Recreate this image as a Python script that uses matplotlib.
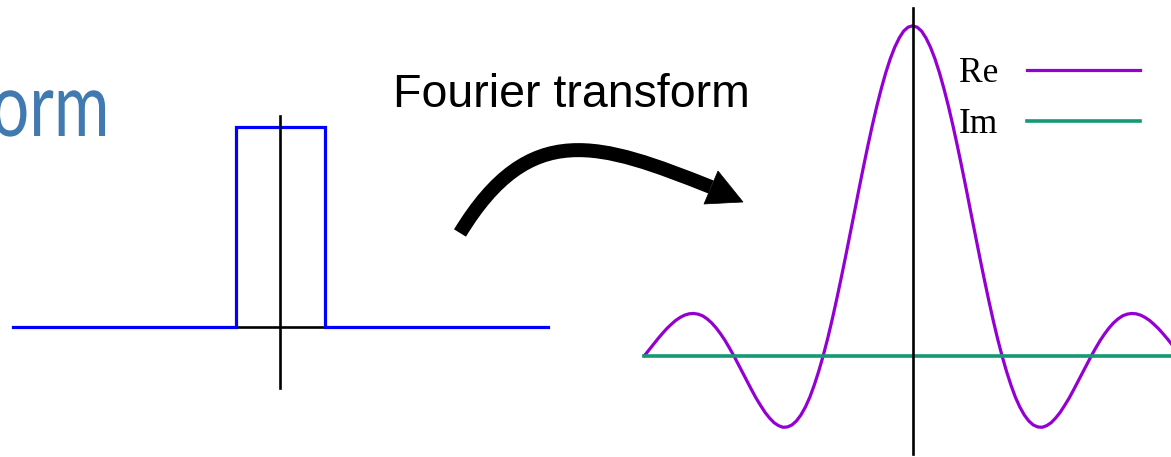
import numpy as np
import matplotlib
matplotlib.use("Agg")
import matplotlib.pyplot as plt
from matplotlib.path import Path
from matplotlib.patches import PathPatch, Polygon
from matplotlib.font_manager import FontProperties
from matplotlib.patheffects import AbstractPathEffect
from matplotlib.transforms import Affine2D

# ---------------- data ----------------
# left panel: rectangular pulse
time_x = [-3.0, -0.5, -0.5, 0.5, 0.5, 3.0]
rect_y = [0.0, 0.0, 1.0, 1.0, 0.0, 0.0]

# right panel: Fourier transform (sampled every 0.05 from -3 to 3)
freq = np.linspace(-3.0, 3.0, 121)
re_vals = [
    0.000, 0.017, 0.034, 0.051, 0.067, 0.082, 0.095, 0.107, 0.116, 0.123,
    0.127, 0.128, 0.126, 0.121, 0.112, 0.100, 0.085, 0.067, 0.047, 0.024,
    0.000, -0.026, -0.052, -0.078, -0.104, -0.129, -0.151, -0.172, -0.189, -0.203,
    -0.212, -0.217, -0.216, -0.210, -0.198, -0.180, -0.156, -0.126, -0.089, -0.047,
    0.000, 0.052, 0.109, 0.170, 0.234, 0.300, 0.368, 0.436, 0.505, 0.572,
    0.637, 0.699, 0.757, 0.810, 0.858, 0.900, 0.935, 0.963, 0.984, 0.996,
    1.000,
    0.996, 0.984, 0.963, 0.935, 0.900, 0.858, 0.810, 0.757, 0.699, 0.637,
    0.572, 0.505, 0.436, 0.368, 0.300, 0.234, 0.170, 0.109, 0.052, 0.000,
    -0.047, -0.089, -0.126, -0.156, -0.180, -0.198, -0.210, -0.216, -0.217, -0.212,
    -0.203, -0.189, -0.172, -0.151, -0.129, -0.104, -0.078, -0.052, -0.026, 0.000,
    0.024, 0.047, 0.067, 0.085, 0.100, 0.112, 0.121, 0.126, 0.128, 0.127,
    0.123, 0.116, 0.107, 0.095, 0.082, 0.067, 0.051, 0.034, 0.017, 0.000,
]
im_vals = [0.0] * len(re_vals)
series_labels = ["Re", "Im"]

title_fragment = "orm"
arrow_label = "Fourier transform"

# ---------------- figure ----------------
W, H = 1171, 457
fig = plt.figure(figsize=(W / 100, H / 100), dpi=100)


def px_axes(left, top, right, bottom):
    return fig.add_axes([left / W, 1 - bottom / H, (right - left) / W, (bottom - top) / H])


class HScale(AbstractPathEffect):
    """Draw text glyphs horizontally condensed about the text origin."""

    def __init__(self, sx):
        super().__init__()
        self.sx = sx

    def draw_path(self, renderer, gc, tpath, affine, rgbFace=None):
        renderer.draw_path(gc, tpath, Affine2D().scale(self.sx, 1.0) + affine, rgbFace)


BLUE = "#0000ff"
PURPLE = "#9400d3"
GREEN = "#139a74"

# left panel
axL = px_axes(12.9, 115.7, 548.0, 388.0)
axL.set_xlim(-3, 3)
axL.set_ylim(-0.3065, 1.055)
axL.axis("off")
axL.axhline(0, color="black", lw=1.9, zorder=1, clip_on=False)
axL.plot(time_x, rect_y, color=BLUE, lw=2.3, zorder=2, clip_on=False,
         solid_joinstyle="miter")
axL.axvline(0, color="black", lw=1.9, zorder=3, clip_on=False)

# right panel
axR = px_axes(644.4, 8.0, 1180.8, 454.0)
axR.set_xlim(-3, 3)
axR.set_ylim(-0.298, 1.054)
axR.axis("off")
lre, = axR.plot(freq, re_vals, color=PURPLE, lw=2.3, zorder=2, clip_on=False,
                label=series_labels[0])
lim, = axR.plot(freq, im_vals, color=GREEN, lw=2.6, zorder=3, clip_on=False,
                label=series_labels[1])
axR.axvline(0, color="black", lw=1.9, zorder=4, clip_on=False)

serif = FontProperties(family="Liberation Serif", size=25.5)
leg = axR.legend(handles=[lre, lim], loc="upper left",
                 bbox_to_anchor=(959 / W, 1 - 57 / H), bbox_transform=fig.transFigure,
                 frameon=False, markerfirst=False, prop=serif,
                 handlelength=3.17, handletextpad=0.82, labelspacing=0.51,
                 borderpad=0, borderaxespad=0)

# overlay for text and arrow (pixel coordinates)
ov = fig.add_axes([0, 0, 1, 1], zorder=5)
ov.set_xlim(0, W)
ov.set_ylim(H, 0)
ov.axis("off")
ov.patch.set_alpha(0)

ov.text(393, 106.7, arrow_label, fontsize=33.5, family="Liberation Sans",
        color="black", ha="left", va="baseline")
ov.text(-9, 136, title_fragment, fontsize=64, family="Lato", weight="normal",
        color="#4179b1", ha="left", va="baseline", path_effects=[HScale(0.76)])

shaft = Path([(460, 233), (530, 118), (600, 143), (711, 187)],
             [Path.MOVETO, Path.CURVE4, Path.CURVE4, Path.CURVE4])
ov.add_patch(PathPatch(shaft, fill=False, lw=10.1, edgecolor="black",
                       capstyle="butt"))
ov.add_patch(Polygon([(743, 202), (718, 171), (704, 204)], closed=True,
                     facecolor="black", edgecolor="black", lw=0.5))

fig.savefig("out.png", dpi=100)
